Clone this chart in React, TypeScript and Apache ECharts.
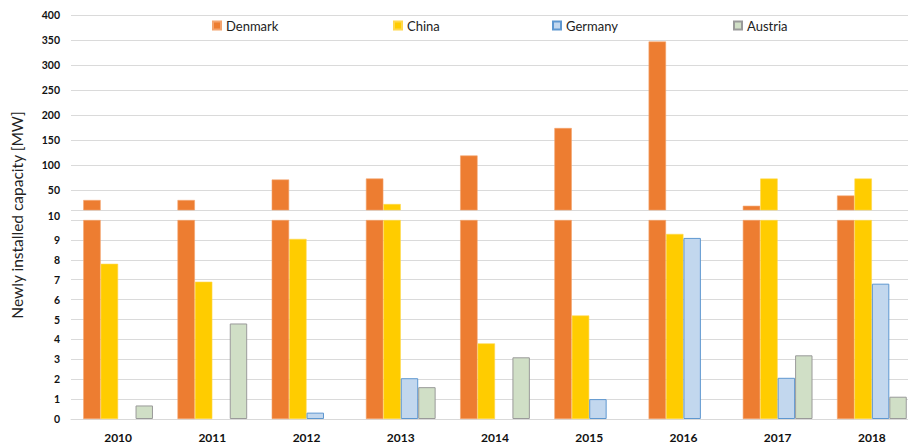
import React, { useEffect, useRef } from "react";
import * as echarts from "echarts";

const years = ["2010", "2011", "2012", "2013", "2014", "2015", "2016", "2017", "2018"];
const denmark = [30, 30, 71, 73, 119, 174, 347, 18.5, 39];
const china = [7.8, 6.9, 9.05, 22, 3.8, 5.2, 9.3, 73, 73];
const germany = [null, null, 0.32, 2.05, null, 1.0, 9.1, 2.07, 6.8];
const austria = [0.68, 4.8, null, 1.6, 3.1, null, null, 3.2, 1.12];

const upperTicks = [10, 50, 100, 150, 200, 250, 300, 350, 400];
const lowerMax = 10;
const upperMin = 10;
const upperMax = 400;

const countries = [
  { name: "Denmark", data: denmark, color: "#ED7D31", border: "#F4A46E", bw: 0.6, legendLeft: 207 },
  { name: "China", data: china, color: "#FFCC00", border: "#FFD84D", bw: 0.6, legendLeft: 388 },
  { name: "Germany", data: germany, color: "#C2D7EE", border: "#5E97D0", bw: 1, legendLeft: 547 },
  { name: "Austria", data: austria, color: "#D0DFC6", border: "#9A9A9A", bw: 1, legendLeft: 728 },
];

const FONT = "Lato, 'Open Sans', sans-serif";

export default function App() {
  const ref = useRef<HTMLDivElement>(null);
  useEffect(() => {
    if (!ref.current) return;
    const chart = echarts.init(ref.current, null, { renderer: "svg" });
    const series: any[] = [];
    countries.forEach((c) => {
      series.push({
        name: c.name,
        type: "bar",
        xAxisIndex: 0,
        yAxisIndex: 0,
        clip: true,
        barGap: "0%",
        barCategoryGap: "26%",
        itemStyle: { color: c.color, borderColor: c.border, borderWidth: c.bw },
        data: c.data.map((v) => (v != null && v > upperMin ? v : null)),
      });
      series.push({
        name: c.name,
        type: "bar",
        xAxisIndex: 1,
        yAxisIndex: 1,
        clip: true,
        barGap: "0%",
        barCategoryGap: "26%",
        itemStyle: { color: c.color, borderColor: c.border, borderWidth: c.bw },
        data: c.data.map((v) => (v == null ? null : Math.min(v, lowerMax))),
      });
    });
    const option: any = {
      animation: false,
      backgroundColor: "#ffffff",
      textStyle: { fontFamily: FONT },
      legend: countries.map((c) => ({
        data: [c.name],
        left: c.legendLeft,
        top: 14,
        icon: "rect",
        itemWidth: 8,
        itemHeight: 8,
        itemGap: 4,
        selectedMode: false,
        textStyle: { fontFamily: FONT, fontSize: 13, color: "#222" },
      })),
      grid: [
        { left: 71, right: 0, top: 15, height: 195 },
        { left: 71, right: 0, top: 220, height: 200 },
      ],
      xAxis: [
        { type: "category", gridIndex: 0, data: years, show: false },
        {
          type: "category",
          gridIndex: 1,
          data: years,
          axisLine: { lineStyle: { color: "#D9D9D9" } },
          axisTick: { show: false },
          axisLabel: { color: "#111", fontSize: 12, fontWeight: "bold", fontFamily: FONT, margin: 12 },
        },
      ],
      yAxis: [
        {
          type: "value",
          gridIndex: 0,
          min: upperMin,
          max: upperMax,
          axisLine: { show: false },
          axisTick: { show: false, customValues: upperTicks },
          splitLine: { lineStyle: { color: "#DADADA", width: 1 } },
          axisLabel: {
            customValues: upperTicks,
            color: "#111",
            fontSize: 10.5,
            fontWeight: "bold",
            fontFamily: FONT,
            margin: 11,
            formatter: (v: number) => (v === upperMin ? "{low|" + v + "}" : String(v)),
            rich: { low: { padding: [11, 0, 0, 0], fontSize: 10.5, fontWeight: "bold", color: "#111", fontFamily: FONT } },
          },
        },
        {
          type: "value",
          gridIndex: 1,
          min: 0,
          max: lowerMax,
          interval: 1,
          axisLine: { show: false },
          axisTick: { show: false },
          splitLine: { lineStyle: { color: "#DADADA", width: 1 } },
          axisLabel: {
            showMaxLabel: false,
            color: "#111",
            fontSize: 10.5,
            fontWeight: "bold",
            fontFamily: FONT,
            margin: 11,
          },
        },
      ],
      graphic: [
        {
          type: "text",
          x: 17,
          y: 215,
          rotation: Math.PI / 2,
          style: {
            text: "Newly installed capacity [MW]",
            fontSize: 15.5,
            fontFamily: FONT,
            fill: "#222",
            align: "center",
            verticalAlign: "middle",
          },
        },
      ],
      series,
    };
    chart.setOption(option);
    return () => chart.dispose();
  }, []);
  return (
    <div style={{ position: "fixed", left: 0, top: 0, width: 908, height: 443, overflow: "hidden", background: "#fff" }}>
      <div ref={ref} style={{ width: 919, height: 443 }} />
    </div>
  );
}
